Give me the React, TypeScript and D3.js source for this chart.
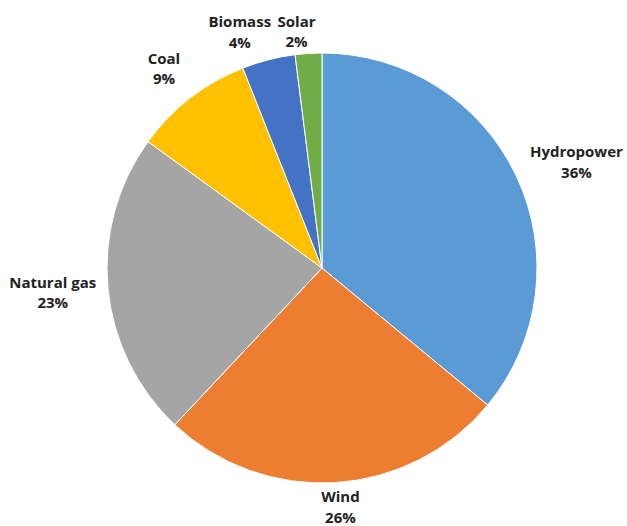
import React from "react";
import * as d3 from "d3";

const categories = ["Hydropower", "Wind", "Natural gas", "Coal", "Biomass", "Solar"];
const values = [36, 26, 23, 9, 4, 2];
const colors = ["#5B9BD5", "#ED7D31", "#A5A5A5", "#FFC000", "#4472C4", "#70AD47"];

// small label fine-tuning (layout only), applied after the radial placement
const labelNudge: [number, number][] = [[7, -2], [3, -4], [0, 2], [-9, -7], [-18, 0], [-10, 7]];

const W = 627;
const H = 526;
const cx = 322;
const cy = 268;
const R = 215;
const labelGap = 12;
const fontSize = 15;
const fontFamily = "'Open Sans', 'Liberation Sans', sans-serif";
const boxH = 33;

function measure(text: string): number {
  if (typeof document === "undefined") return text.length * fontSize * 0.6;
  const cv = document.createElement("canvas");
  const ctx = cv.getContext("2d");
  if (!ctx) return text.length * fontSize * 0.6;
  ctx.font = `bold ${fontSize}px ${fontFamily}`;
  return ctx.measureText(text).width;
}

export default function App() {
  const data = categories.map((c, i) => ({ name: c, value: values[i], color: colors[i], nudge: labelNudge[i] }));
  const pie = d3.pie<any>().sort(null).value((d: any) => d.value);
  const arcs = pie(data);
  const arcGen = d3.arc<any>().innerRadius(0).outerRadius(R);
  const total = d3.sum(values);
  const fmt = d3.format(".0%");

  return (
    <svg
      width={W}
      height={H}
      style={{ position: "absolute", left: 0, top: 0, background: "#fff" }}
      fontFamily={fontFamily}
    >
      <g transform={`translate(${cx},${cy})`}>
        {arcs.map((a, i) => (
          <path key={i} d={arcGen(a) as string} fill={a.data.color} stroke="#fff" strokeWidth={1} />
        ))}
        {arcs.map((a, i) => {
          const mid = (a.startAngle + a.endAngle) / 2;
          const s = Math.sin(mid);
          const c = -Math.cos(mid);
          const pct = fmt(a.data.value / total);
          const w = Math.max(measure(a.data.name), measure(pct));
          const px = (R + labelGap) * s + (s * w) / 2 + a.data.nudge[0];
          const py = (R + labelGap) * c + (c * boxH) / 2 + a.data.nudge[1];
          return (
            <text
              key={"t" + i}
              textAnchor="middle"
              fontSize={fontSize}
              fontWeight="bold"
              fill="#222"
            >
              <tspan x={px} y={py - 5}>{a.data.name}</tspan>
              <tspan x={px} y={py + 15.5}>{pct}</tspan>
            </text>
          );
        })}
      </g>
    </svg>
  );
}
